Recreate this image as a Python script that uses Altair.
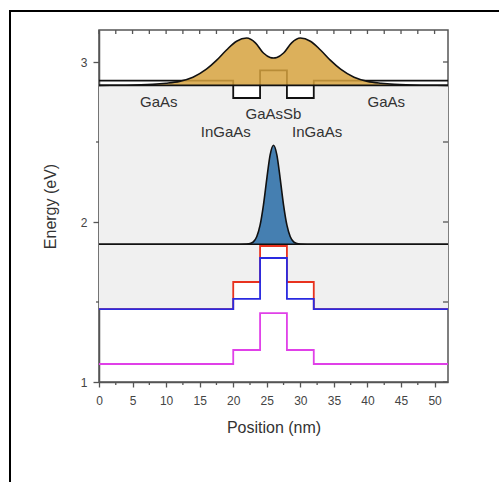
import altair as alt
import pandas as pd

# ---- band profiles (step-after, nm / eV) ----
step_x = [0, 20, 24, 28, 32, 52]
vb_black = [2.883, 2.775, 2.948, 2.775, 2.883, 2.883]
gap_top = [2.854, 2.775, 2.854, 2.775, 2.854, 2.854]
cb_red = [1.456, 1.625, 1.85, 1.625, 1.456, 1.456]
cb_blue = [1.456, 1.519, 1.775, 1.519, 1.456, 1.456]
cb_mag = [1.1125, 1.2, 1.43, 1.2, 1.1125, 1.1125]

# ---- hole wavefunction ----
hole_level = 2.854
hole_x = [0, 4, 8, 10, 12, 14, 16, 17.5, 19, 20.5, 22, 23.3, 24.5, 25.5, 26,
          26.5, 27.5, 28.7, 30, 31.5, 33, 34.5, 36, 38, 40, 42, 44, 48, 52]
hole_e = [2.854, 2.855, 2.860, 2.867, 2.879, 2.905, 2.955, 3.01, 3.075, 3.13, 3.15,
          3.12, 3.056, 3.028, 3.025, 3.028, 3.056, 3.12, 3.15, 3.13, 3.075, 3.01,
          2.955, 2.905, 2.879, 2.867, 2.860, 2.855, 2.854]

# ---- electron wavefunction ----
elec_level = 1.861
elec_x = [0, 21, 22, 22.5, 23, 23.5, 24, 24.5, 25, 25.5, 26,
          26.5, 27, 27.5, 28, 28.5, 29, 29.5, 30, 31, 52]
elec_e = [1.861, 1.861, 1.862, 1.865, 1.876, 1.908, 1.98, 2.106, 2.27, 2.42, 2.48,
          2.42, 2.27, 2.106, 1.98, 1.908, 1.876, 1.865, 1.862, 1.861, 1.861]

# ---- labels ----
lab_text = ["GaAs", "GaAs", "GaAsSb", "InGaAs", "InGaAs"]
lab_x = [8.9, 42.8, 26.0, 18.9, 32.5]
lab_y = [2.75, 2.75, 2.675, 2.56, 2.56]

x_major = [0, 5, 10, 15, 20, 25, 30, 35, 40, 45, 50]
x_minor = [2.5, 7.5, 12.5, 17.5, 22.5, 27.5, 32.5, 37.5, 42.5, 47.5]
y_major = [1, 2, 3]
y_minor = [1.5, 2.5]

W, H = 349, 352
xs = alt.Scale(domain=[0, 52], nice=False, zero=False)
ys = alt.Scale(domain=[1, 3.2], nice=False, zero=False)

steps = pd.DataFrame({"x": step_x, "vb": vb_black, "gt": gap_top,
                      "red": cb_red, "blue": cb_blue, "mag": cb_mag})
hole = pd.DataFrame({"x": hole_x, "e": hole_e})
elec = pd.DataFrame({"x": elec_x, "e": elec_e})
levels = pd.DataFrame({"e": [hole_level, elec_level]})
labs = pd.DataFrame({"t": lab_text, "x": lab_x, "y": lab_y})

XAX = alt.Axis(values=x_major, tickSize=5, labelPadding=8, titlePadding=13,
               grid=False, labelFlush=False, labelOverlap=False)
YAX = alt.Axis(values=y_major, tickSize=6, labelPadding=6, titlePadding=22, grid=False,
               format="d", labelOverlap=False)

def XN(f="x:Q"):
    return alt.X(f, scale=xs, axis=XAX, title="Position (nm)")

def YN(f):
    return alt.Y(f, scale=ys, axis=YAX, title="Energy (eV)")

base_steps = alt.Chart(steps)

gray = base_steps.mark_area(interpolate="step-after", color="#f0f0f0").encode(
    x=XN(), y=YN("red:Q"), y2="gt:Q")

def step_line(col, color):
    return base_steps.mark_line(interpolate="step-after", color=color, strokeWidth=1.8).encode(
        x=XN(), y=YN(f"{col}:Q"))

red_l = step_line("red", "#e8321e")
blue_l = step_line("blue", "#2a2ae0")
mag_l = step_line("mag", "#e040e8")
vb_l = step_line("vb", "#111111")

hole_fill = alt.Chart(hole).mark_area(interpolate="monotone", color="#d6a23e", opacity=0.85).encode(
    x=XN(), y=YN("e:Q"), y2=alt.datum(hole_level))
hole_line = alt.Chart(hole).mark_line(interpolate="monotone", color="#111111", strokeWidth=1.6).encode(
    x=XN(), y=YN("e:Q"))
elec_fill = alt.Chart(elec).mark_area(interpolate="monotone", color="#3b78ad", opacity=0.95).encode(
    x=XN(), y=YN("e:Q"), y2=alt.datum(elec_level))
elec_line = alt.Chart(elec).mark_line(interpolate="monotone", color="#111111", strokeWidth=1.6).encode(
    x=XN(), y=YN("e:Q"))
level_l = alt.Chart(levels).mark_rule(color="#111111", strokeWidth=1.6).encode(
    y=YN("e:Q"))

text = alt.Chart(labs).mark_text(font="Liberation Sans", fontSize=15, color="#333333").encode(
    x=XN(), y=YN("y:Q"), text="t:N")

tick_col = "#555555"
xmin = pd.DataFrame({"x": x_minor})
xall = pd.DataFrame({"x": x_major + x_minor})
ymin = pd.DataFrame({"e": y_minor})
yall = pd.DataFrame({"e": y_major + y_minor})

t_bot_minor = alt.Chart(xmin).mark_rule(color=tick_col, strokeWidth=1.3).encode(
    x=XN(), y=alt.value(H), y2=alt.value(H + 3))
t_top = alt.Chart(xall).mark_rule(color=tick_col, strokeWidth=1.3).encode(
    x=XN(), y=alt.value(0), y2=alt.value(4))
t_left_minor = alt.Chart(ymin).mark_rule(color=tick_col, strokeWidth=1.3).encode(
    y=YN("e:Q"), x=alt.value(0), x2=alt.value(-3))
t_right = alt.Chart(yall).mark_rule(color=tick_col, strokeWidth=1.3).encode(
    y=YN("e:Q"), x=alt.value(W), x2=alt.value(W - 5))

frame_df = pd.DataFrame({"k": [0]})
frame_l = alt.Chart(frame_df).mark_rule(color="black", strokeWidth=2).encode(
    x=alt.value(-89), y=alt.value(-20), y2=alt.value(460))
frame_t = alt.Chart(frame_df).mark_rule(color="black", strokeWidth=2).encode(
    x=alt.value(-90), x2=alt.value(410), y=alt.value(-19))

chart = alt.layer(
    gray, red_l, blue_l, mag_l, vb_l,
    hole_fill, hole_line, elec_fill, elec_line, level_l, text,
    t_bot_minor, t_top, t_left_minor, t_right, frame_l, frame_t,
).properties(
    width=W, height=H,
    autosize=alt.AutoSizeParams(type="none"),
    padding={"left": 99, "top": 30, "right": 51, "bottom": 100},
).configure_view(
    stroke="#555555", strokeWidth=1.5
).configure_axis(
    domainColor="#555555", domainWidth=1.5, tickColor="#555555", tickWidth=1.3,
    labelFont="Liberation Sans", labelFontSize=12, labelColor="#444444",
    titleFont="Liberation Sans", titleFontSize=16, titleFontWeight="normal", titleColor="#333333",
    labelOverlap=False,
)

chart.save("out.html", embed_options={"renderer": "svg", "actions": False})
